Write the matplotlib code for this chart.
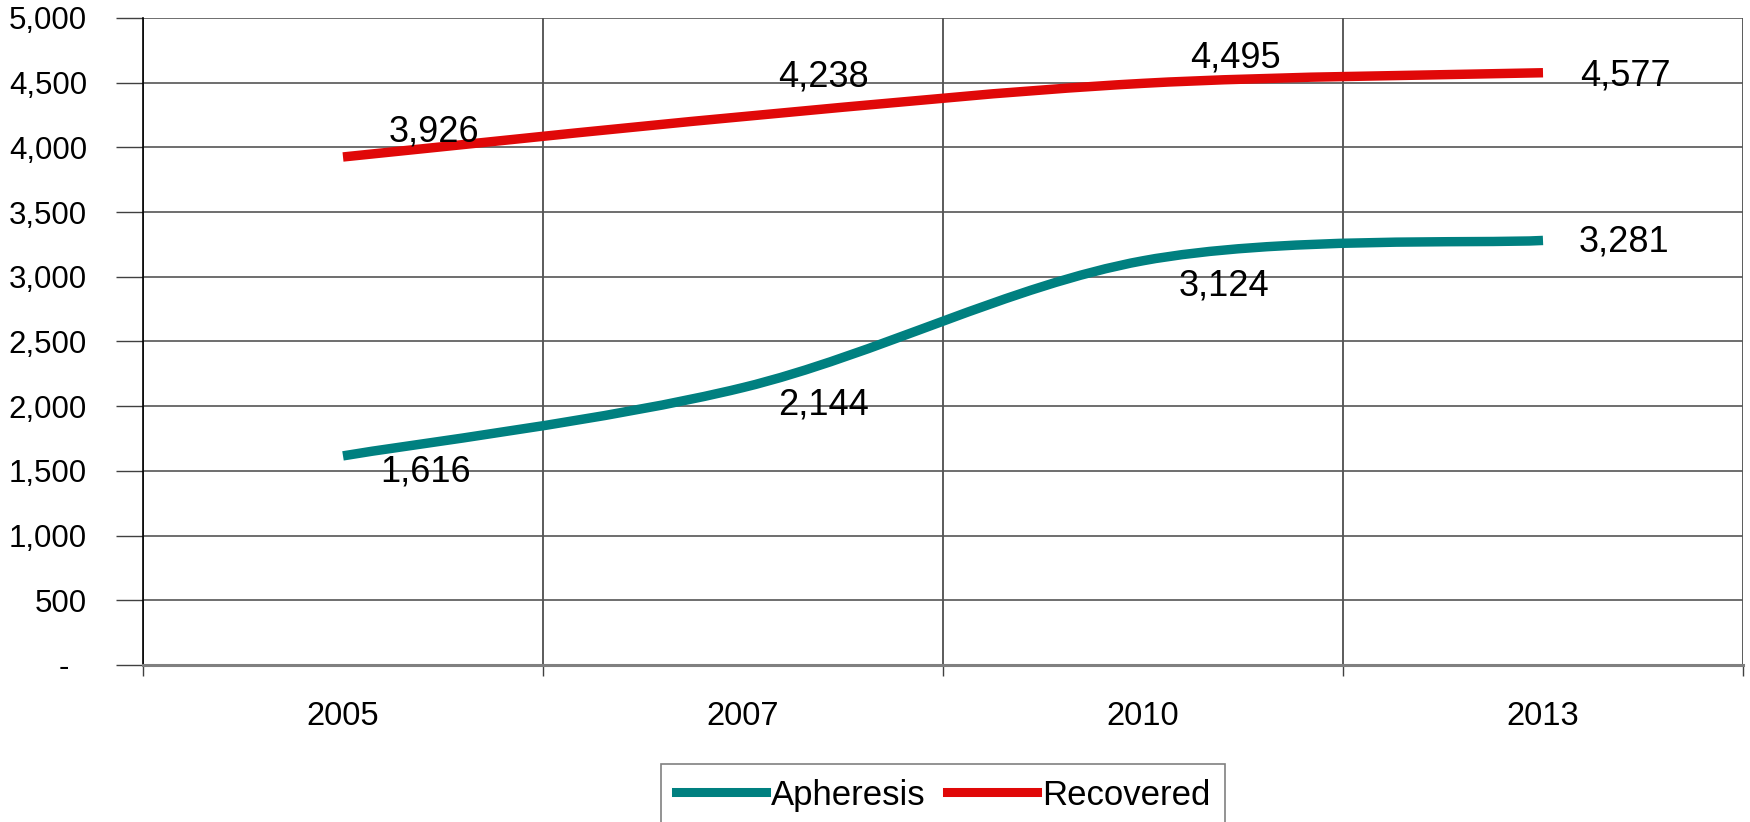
import numpy as np
import matplotlib.pyplot as plt
from matplotlib.path import Path
from matplotlib.patches import PathPatch
from matplotlib.lines import Line2D

plt.rcParams['font.family'] = ['Liberation Sans', 'DejaVu Sans']

years = ['2005', '2007', '2010', '2013']
apheresis = [1616, 2144, 3124, 3281]
recovered = [3926, 4238, 4495, 4577]

teal = '#008080'
red = '#E00808'

# label offsets in pixels (dx, dy) relative to each point
aph_offsets = [(83, -16), (81, -17), (81, -25), (81, -2)]
rec_offsets = [(91, 25), (80, 40), (92, 25), (82, -3)]


def smooth_path(xs, ys):
    # Excel-like smoothed line: Catmull-Rom converted to cubic Bezier segments
    pts = np.column_stack([xs, ys]).astype(float)
    ext = np.vstack([pts[0], pts, pts[-1]])
    verts = [pts[0]]
    codes = [Path.MOVETO]
    for i in range(len(pts) - 1):
        p0, p1, p2, p3 = ext[i], ext[i + 1], ext[i + 2], ext[i + 3]
        c1 = p1 + (p2 - p0) / 6
        c2 = p2 - (p3 - p1) / 6
        verts += [c1, c2, p2]
        codes += [Path.CURVE4] * 3
    return Path(verts, codes)


fig = plt.figure(figsize=(17.5, 8.22), dpi=100)
ax = fig.add_axes([143 / 1750, 1 - 665 / 822, 1600 / 1750, 647 / 822])

x = np.arange(len(years)) + 0.5
for vals, col, offs in [(apheresis, teal, aph_offsets), (recovered, red, rec_offsets)]:
    ax.add_patch(PathPatch(smooth_path(x, vals), fill=False, edgecolor=col,
                           lw=6.8, capstyle='butt', zorder=3))
    for xi, v, (dx, dy) in zip(x, vals, offs):
        ax.annotate(f'{v:,}', (xi, v), xytext=(dx, dy), textcoords='offset pixels',
                    ha='center', va='center', fontsize=26, zorder=4)

ax.set_xlim(0, len(years))
ax.set_ylim(0, 5000)

# y axis
yt = np.arange(0, 5001, 500)
ax.set_yticks(yt)
ax.set_yticklabels(['-  '] + [f'{v:,}' for v in yt[1:]])
ax.tick_params(axis='y', length=19.4, width=1, color='#404040', pad=21, labelsize=22.5)
ax.grid(axis='y', color='#555555', lw=1.2)

# x axis: boundaries as major ticks, labels at centers
ax.set_xticks(np.arange(len(years) + 1))
ax.set_xticklabels([])
ax.set_xticks(x, minor=True)
ax.set_xticklabels(years, minor=True)
ax.tick_params(axis='x', which='major', length=8, width=1, color='#404040')
ax.tick_params(axis='x', which='minor', length=0, pad=26, labelsize=23.5)
ax.grid(axis='x', which='major', color='#404040', lw=1.2)
ax.set_axisbelow(True)

for s in ['top', 'right']:
    ax.spines[s].set_visible(False)
ax.spines['left'].set_color('black')
ax.spines['left'].set_linewidth(1.2)
ax.spines['bottom'].set_color('#808080')
ax.spines['bottom'].set_linewidth(2.2)

handles = [Line2D([], [], color=teal, lw=6.5), Line2D([], [], color=red, lw=6.5)]
leg = fig.legend(handles, ['Apheresis', 'Recovered'], loc='upper center',
                 bbox_to_anchor=(943 / 1750, 1 - 764 / 822), ncol=2, fontsize=25,
                 frameon=True, fancybox=False, edgecolor='#606060',
                 handlelength=2.6, handletextpad=0.14, columnspacing=0.62,
                 borderpad=0.42, borderaxespad=0)
leg.get_frame().set_linewidth(1.2)

fig.savefig('out.png', dpi=100)
